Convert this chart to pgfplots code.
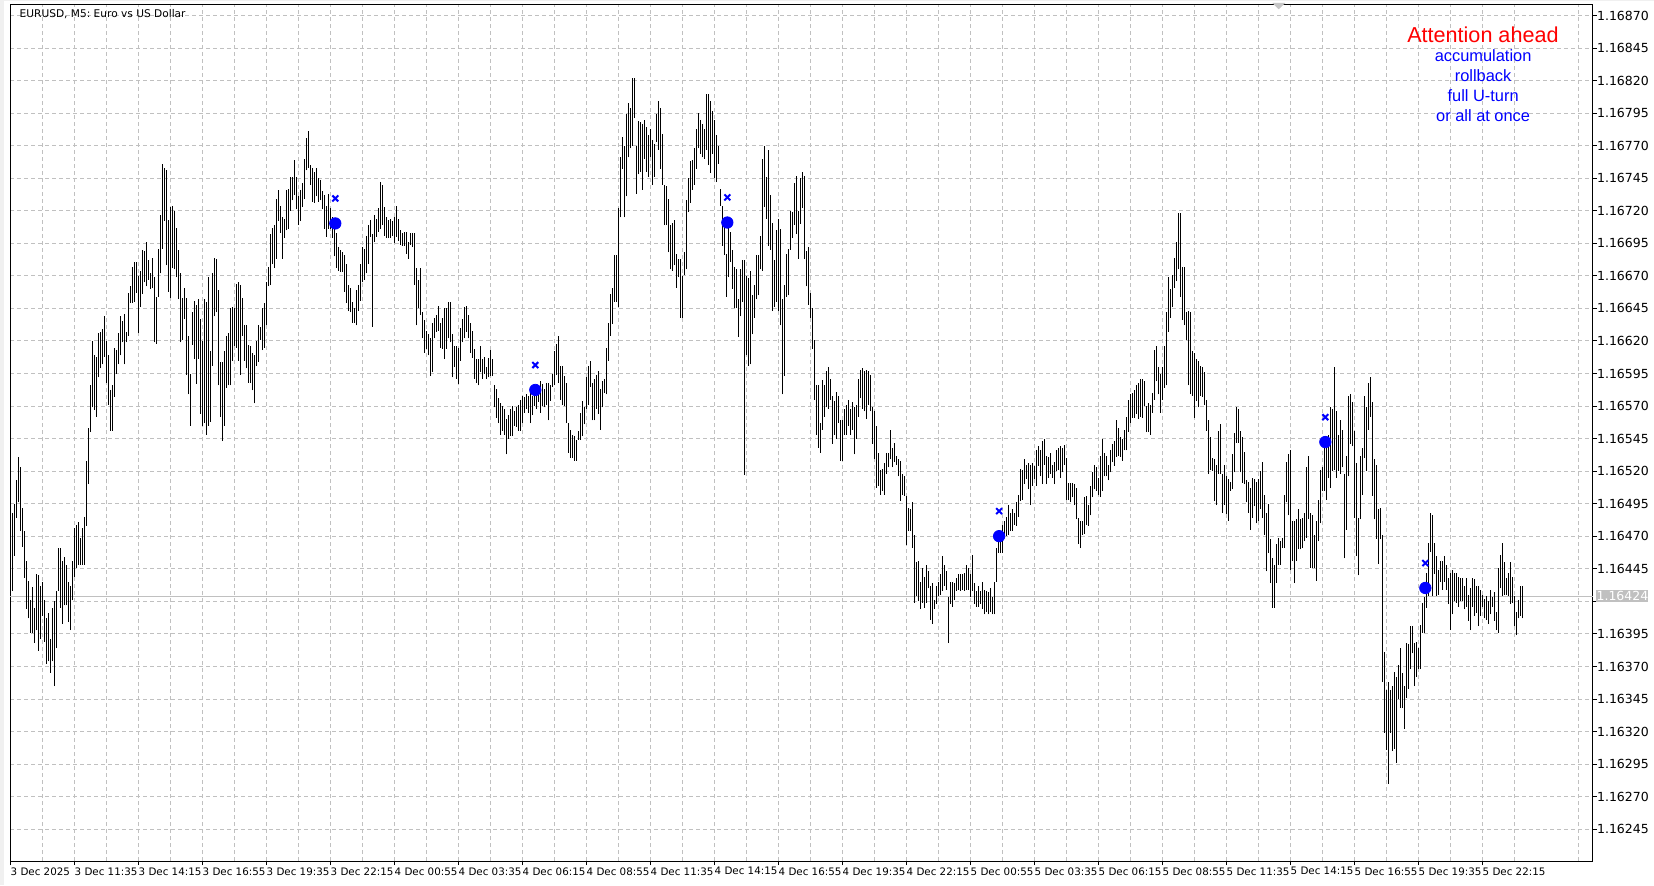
\documentclass[border=0pt]{standalone}
\usepackage{pgfplots}
\usepackage{pgfplotstable}
\pgfplotsset{compat=1.18}
\usepackage{fontspec}
\setmainfont{DejaVu Sans}
\newfontfamily\arialf{Liberation Sans}
\definecolor{gridgray}{RGB}{192,192,192}
\definecolor{pricegray}{RGB}{192,192,192}
\definecolor{chrome}{RGB}{240,240,240}
\definecolor{mtblue}{RGB}{0,0,255}
\definecolor{mtred}{RGB}{255,0,0}
% bar index (5-min bars from 3 Dec 08:55), low and high in 1e-5 above 1.16
\pgfplotstableread{
i lo hi
1 428 488
2 455 495
3 484 513
4 496 531
5 474 523
6 462 492
7 438 474
8 414 451
9 407 436
10 396 421
11 396 431
12 388 415
13 398 441
14 382 440
15 391 432
16 409 435
17 389 421
18 372 407
19 374 411
20 365 391
21 374 415
22 355 420
23 384 428
24 428 461
25 415 461
26 403 451
27 417 454
28 417 448
29 404 435
30 398 432
31 421 451
32 439 476
33 446 479
34 448 481
35 448 469
36 448 476
37 448 485
38 478 528
39 510 553
40 550 586
41 569 620
42 567 609
43 562 608
44 592 626
45 599 627
46 602 629
47 608 639
48 588 620
49 571 609
50 551 582
51 551 586
52 577 615
53 595 613
54 602 626
55 609 639
56 619 635
57 602 641
58 619 627
59 624 657
60 649 662
61 649 677
62 650 681
63 657 681
64 626 670
65 646 674
66 656 690
67 665 689
68 662 696
69 667 682
70 660 672
71 661 684
72 619 669
73 618 654
74 654 691
75 672 717
76 691 756
77 712 753
78 678 751
79 658 713
80 653 723
81 676 724
82 675 720
83 669 707
84 652 690
85 619 672
86 621 653
87 637 661
88 594 653
89 579 624
90 555 595
91 617 642
92 606 651
93 587 648
94 606 652
95 564 637
96 555 620
97 557 652
98 548 650
99 555 669
100 558 612
101 601 672
102 639 684
103 642 683
104 586 659
105 562 604
106 543 604
107 555 612
108 584 624
109 586 626
110 586 645
111 605 646
112 616 645
113 615 664
114 605 665
115 594 663
116 624 653
117 605 632
118 599 632
119 588 617
120 588 616
121 582 611
122 572 609
123 601 620
124 604 632
125 621 631
126 613 645
127 615 649
128 632 665
129 662 677
130 663 702
131 679 707
132 676 709
133 683 729
134 712 736
135 703 724
136 683 715
137 699 714
138 705 736
139 706 737
140 720 746
141 728 746
142 732 759
143 721 746
144 709 731
145 712 736
146 723 741
147 729 760
148 751 776
149 753 781
150 740 755
151 727 753
152 726 750
153 731 753
154 727 745
155 728 744
156 721 735
157 706 732
158 700 724
159 706 733
160 706 722
161 699 715
162 685 709
163 676 703
164 674 692
165 673 690
166 673 688
167 658 686
168 649 679
169 643 663
170 642 661
171 634 650
172 634 645
173 632 659
174 643 663
175 651 679
176 665 692
177 667 691
178 672 701
179 679 709
180 700 713
181 631 702
182 696 717
183 700 714
184 704 722
185 706 742
186 709 740
187 701 723
188 699 715
189 699 713
190 699 714
191 701 712
192 695 715
193 700 724
194 697 714
195 694 705
196 693 703
197 693 704
198 687 704
199 683 696
200 694 703
201 692 703
202 663 703
203 632 676
204 645 667
205 640 676
206 622 642
207 611 636
208 614 628
209 609 625
210 593 622
211 596 634
212 622 638
213 627 640
214 628 647
215 615 634
216 614 638
217 606 645
218 614 645
219 622 650
220 619 650
221 592 625
222 600 616
223 591 616
224 587 615
225 605 630
226 619 637
227 622 646
228 627 647
229 622 640
230 611 634
231 607 628
232 591 614
233 588 606
234 586 606
235 596 616
236 591 606
237 595 608
238 591 600
239 592 607
240 593 613
241 593 606
242 569 586
243 561 583
244 557 576
245 548 572
246 551 570
247 548 568
248 533 560
249 545 563
250 547 568
251 547 570
252 555 566
253 554 569
254 551 571
255 551 575
256 557 578
257 565 577
258 568 579
259 565 578
260 557 583
261 563 578
262 570 584
263 568 586
264 573 586
265 565 589
266 570 587
267 569 583
268 571 588
269 559 588
270 574 586
271 585 595
272 586 612
273 594 618
274 588 624
275 575 601
276 571 601
277 570 593
278 557 588
279 534 557
280 530 552
281 530 548
282 528 547
283 528 544
284 544 551
285 544 565
286 547 574
287 556 569
288 568 592
289 571 601
290 585 605
291 559 588
292 559 591
293 568 594
294 564 597
295 552 583
296 569 589
297 580 591
298 579 615
299 605 634
300 624 656
301 633 661
302 650 686
303 650 686
304 646 722
305 715 761
306 752 777
307 715 770
308 731 794
309 761 803
310 768 799
311 770 822
312 791 822
313 733 770
314 748 789
315 750 788
316 736 787
317 760 790
318 750 784
319 746 778
320 761 783
321 740 774
322 746 771
323 773 794
324 767 804
325 752 799
326 740 779
327 709 740
328 709 739
329 688 729
330 675 709
331 674 711
332 678 713
333 661 687
334 669 683
335 638 683
336 638 670
337 671 688
338 675 728
339 719 745
340 726 758
341 736 759
342 740 768
343 752 783
344 768 795
345 764 790
346 761 787
347 760 783
348 767 810
349 755 810
350 749 804
351 764 797
352 745 790
353 742 778
354 756 770
355 724 737
356 693 724
357 686 713
358 654 687
359 669 709
360 681 704
361 660 690
362 645 677
363 645 675
364 623 652
365 639 675
366 650 682
367 517 682
368 609 670
369 601 668
370 602 674
371 625 655
372 638 663
373 652 686
374 655 686
375 675 701
376 674 760
377 723 770
378 714 746
379 693 767
380 690 732
381 643 711
382 646 682
383 650 705
384 643 714
385 632 706
386 579 652
387 593 663
388 654 687
389 655 691
390 690 720
391 699 719
392 709 741
393 702 747
394 683 720
395 710 745
396 722 750
397 683 747
398 662 689
399 648 692
400 638 657
401 614 645
402 575 621
403 548 586
404 538 586
405 534 557
406 552 590
407 562 586
408 569 597
409 568 600
410 575 591
411 541 578
412 548 574
413 545 581
414 557 578
415 528 559
416 528 559
417 548 568
418 548 571
419 555 575
420 548 568
421 552 573
422 533 569
423 545 571
424 562 591
425 576 598
426 568 599
427 566 597
428 560 598
429 571 597
430 566 594
431 541 569
432 529 566
433 507 555
434 509 534
435 502 521
436 505 522
437 502 526
438 518 534
439 523 534
440 529 552
441 523 538
442 527 542
443 525 532
444 516 529
445 497 528
446 502 518
447 501 516
448 463 501
449 474 492
450 474 491
451 461 496
452 419 471
453 424 450
454 420 451
455 414 435
456 419 446
457 415 439
458 419 448
459 430 443
460 406 432
461 403 434
462 414 421
463 418 432
464 424 435
465 425 441
466 428 455
467 432 448
468 429 443
469 388 423
470 418 435
471 416 435
472 421 434
473 428 438
474 429 441
475 428 441
476 429 441
477 428 442
478 429 448
479 429 446
480 423 441
481 428 456
482 418 434
483 416 428
484 416 432
485 418 428
486 414 435
487 410 429
488 412 428
489 410 427
490 412 430
491 410 423
492 410 435
493 435 461
494 457 470
495 457 470
496 457 479
497 470 482
498 470 485
499 471 494
500 474 488
501 474 491
502 479 488
503 478 496
504 485 502
505 497 522
506 498 521
507 510 529
508 514 525
509 506 526
510 494 525
511 509 526
512 514 524
513 509 536
514 524 539
515 516 536
516 510 543
517 525 545
518 510 532
519 515 531
520 518 534
521 515 525
522 510 527
523 520 536
524 521 538
525 515 539
526 519 538
527 525 540
528 498 530
529 498 511
530 496 511
531 500 511
532 494 510
533 483 507
534 464 484
535 461 482
536 471 482
537 472 500
538 479 501
539 478 494
540 486 509
541 500 519
542 506 525
543 505 523
544 502 515
545 500 532
546 505 545
547 516 534
548 516 532
549 513 525
550 519 536
551 527 541
552 524 543
553 531 559
554 532 553
555 531 546
556 528 545
557 536 552
558 536 562
559 550 575
560 557 579
561 561 580
562 561 582
563 564 586
564 560 588
565 562 591
566 561 591
567 570 589
568 550 570
569 550 572
570 548 571
571 565 580
572 575 613
573 589 616
574 579 600
575 565 595
576 575 600
577 584 616
578 586 642
579 627 669
580 638 660
581 646 671
582 661 684
583 666 696
584 675 718
585 654 718
586 636 677
587 632 677
588 621 642
589 586 643
590 579 642
591 578 612
592 561 611
593 574 606
594 569 605
595 578 601
596 577 600
597 571 596
598 551 575
599 518 559
600 521 546
601 520 530
602 497 529
603 494 525
604 518 551
605 518 556
606 488 518
607 494 525
608 487 516
609 482 514
610 505 512
611 506 533
612 519 549
613 542 569
614 542 568
615 519 551
616 511 546
617 510 535
618 496 513
619 488 512
620 475 507
621 484 515
622 493 514
623 480 512
624 482 514
625 491 520
626 484 527
627 471 502
628 443 488
629 457 495
630 434 468
631 415 453
632 415 448
633 434 464
634 448 469
635 448 466
636 461 469
637 461 502
638 496 527
639 486 533
640 444 536
641 451 482
642 434 482
643 451 483
644 460 491
645 460 483
646 461 484
647 466 488
648 469 523
649 483 532
650 446 488
651 446 486
652 446 471
653 436 482
654 466 498
655 480 521
656 505 523
657 505 543
658 498 546
659 515 548
660 507 569
661 520 568
662 521 600
663 515 566
664 520 548
665 518 559
666 523 552
667 453 518
668 475 532
669 516 578
670 541 579
671 539 573
672 484 551
673 455 526
674 440 484
675 483 532
676 502 538
677 530 578
678 520 569
679 552 588
680 562 592
681 501 573
682 483 529
683 468 525
684 449 491
685 468 492
686 358 471
687 319 381
688 306 352
689 280 358
690 319 352
691 305 355
692 307 366
693 296 362
694 345 371
695 338 384
696 338 365
697 322 355
698 346 388
699 353 387
700 368 401
701 380 401
702 355 388
703 362 389
704 368 384
705 368 402
706 396 419
707 396 423
708 415 442
709 424 465
710 458 488
711 424 486
712 441 465
713 424 455
714 425 444
715 435 451
716 429 451
717 435 455
718 429 448
719 418 438
720 398 442
721 410 444
722 420 442
723 419 442
724 416 439
725 420 438
726 420 438
727 414 432
728 416 438
729 405 425
730 398 430
731 416 438
732 409 437
733 411 432
734 401 432
735 409 429
736 416 425
737 407 422
738 406 424
739 403 420
740 410 429
741 416 423
742 405 427
743 398 412
744 396 446
745 430 456
746 424 465
747 425 450
748 425 438
749 424 442
750 418 450
751 419 439
752 401 424
753 394 412
754 407 421
755 409 432
756 407 432
}\bars
\begin{document}
\begin{tikzpicture}
\useasboundingbox (-5.15pt,-12pt) rectangle (821.85pt,430.5pt);
\fill[white] (-5.15pt,-12pt) rectangle (821.85pt,430.5pt);
\fill[chrome] (-5.15pt,-12pt) rectangle (-3.4pt,430.5pt);
\fill[chrome] (-5.15pt,430.5pt) rectangle (821.85pt,429.9pt);
\begin{axis}[
  at={(0pt,0pt)}, anchor=south west,
  scale only axis, width=791.2pt, height=428.35pt,
  xmin=0, xmax=791.2, ymin=220.6, ymax=878.6,
  clip=false,
  axis line style={black, line width=0.5pt},
  xtick={0,32,...,736},
  xticklabels={3 Dec 2025,3 Dec 11:35,3 Dec 14:15,3 Dec 16:55,3 Dec 19:35,3 Dec 22:15,4 Dec 00:55,4 Dec 03:35,4 Dec 06:15,4 Dec 08:55,4 Dec 11:35,4 Dec 14:15,4 Dec 16:55,4 Dec 19:35,4 Dec 22:15,5 Dec 00:55,5 Dec 03:35,5 Dec 06:15,5 Dec 08:55,5 Dec 11:35,5 Dec 14:15,5 Dec 16:55,5 Dec 19:35,5 Dec 22:15},
  minor xtick={16,48,...,784},
  ytick={245,270,...,870},
  yticklabels={1.16245,1.16270,1.16295,1.16320,1.16345,1.16370,1.16395,,1.16445,1.16470,1.16495,1.16520,1.16545,1.16570,1.16595,1.16620,1.16645,1.16670,1.16695,1.16720,1.16745,1.16770,1.16795,1.16820,1.16845,1.16870},
  xtick pos=left, ytick pos=right, yticklabel pos=right,
  tick align=outside, major tick length=2pt, minor tick length=0pt,
  tick style={black, line width=0.5pt},
  grid=both,
  major grid style={draw=gridgray, line width=0.5pt, dash pattern=on 2pt off 1.5pt},
  minor grid style={draw=gridgray, line width=0.5pt, dash pattern=on 2pt off 1.5pt},
  xticklabel style={font=\fontsize{5.15}{6}\selectfont, anchor=north west, inner sep=0pt, yshift=-1pt},
  yticklabel style={font=\fontsize{6.25}{7}\selectfont, anchor=west, inner sep=0pt},
]
% current price line
\addplot[pricegray, line width=0.5pt, forget plot] coordinates {(0,424) (791.2,424)};
% OHLC bars drawn as high-low lines
\addplot[black, line width=0.62pt, no markers, quiver={u=0, v=\thisrow{hi}-\thisrow{lo}}] table[x=i, y=lo] {\bars};
% signal markers
\addplot[only marks, mark=x, mark size=2.1pt, mtblue, line width=1pt] coordinates {(162.5,729.5) (262.5,601.5) (358.5,730.3) (494.4,489.3) (657.5,561.5) (707.5,449.4)};
\addplot[only marks, mark=*, mark size=2.85pt, mtblue, draw=mtblue] coordinates {(162.5,710.3) (262.5,582.4) (358.5,711.0) (494.4,470.1) (657.5,542.4) (707.5,430.3)};
% current price tag
\node[fill=pricegray, text=white, inner sep=0pt, minimum height=5.85pt, minimum width=26pt, anchor=west, font=\fontsize{6.25}{7}\selectfont] at (axis cs:792.85,424) {1.16424};
% chart shift marker
\fill[gray!45] (axis cs:631,879.6) -- (axis cs:637.5,879.6) -- (axis cs:634.2,874.8) -- cycle;
% title
\node[anchor=base west, inner sep=0pt, xshift=4.5pt, yshift=-6.5pt, font=\fontsize{5.3}{6}\selectfont] at (rel axis cs:0,1) {EURUSD, M5:~Euro vs US Dollar};
% annotation
\node[anchor=base, inner sep=0pt, text=mtred, font=\arialf\fontsize{10.8}{12}\selectfont] at (axis cs:736.3,849.1) {Attention ahead};
\node[anchor=base, inner sep=0pt, text=mtblue, font=\arialf\fontsize{8.2}{10}\selectfont] at (axis cs:736.4,834.5) {accumulation};
\node[anchor=base, inner sep=0pt, text=mtblue, font=\arialf\fontsize{8.2}{10}\selectfont] at (axis cs:736.4,819.2) {rollback};
\node[anchor=base, inner sep=0pt, text=mtblue, font=\arialf\fontsize{8.2}{10}\selectfont] at (axis cs:736.4,803.8) {full U-turn};
\node[anchor=base, inner sep=0pt, text=mtblue, font=\arialf\fontsize{8.2}{10}\selectfont] at (axis cs:736.4,788.4) {or all at once};
\end{axis}
\end{tikzpicture}
\end{document}
